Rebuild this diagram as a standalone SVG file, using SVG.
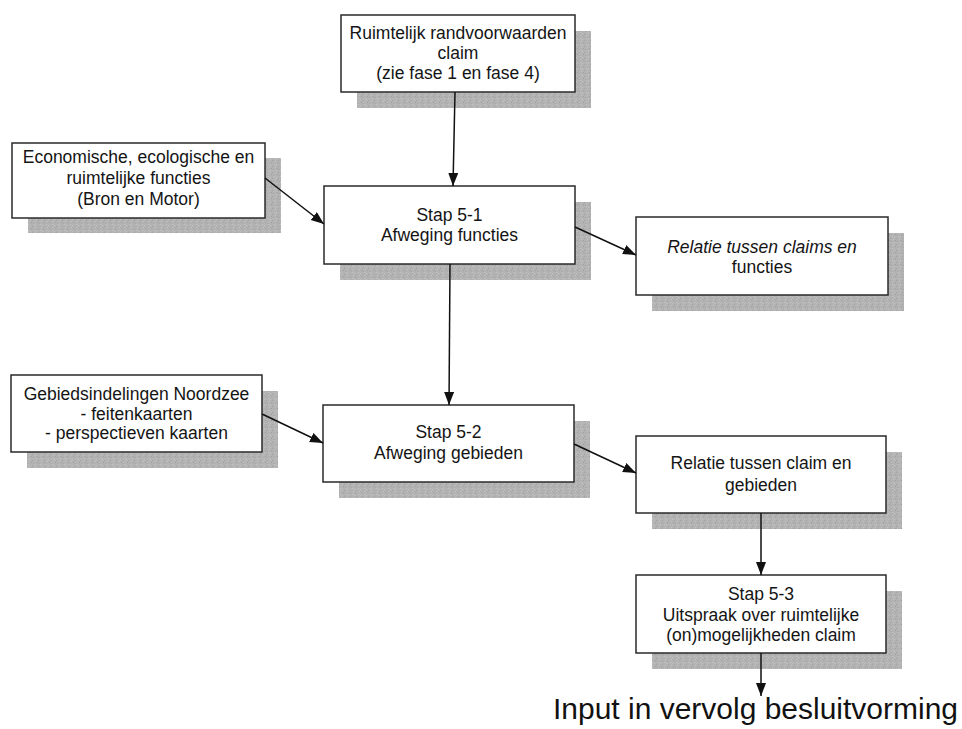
<svg xmlns="http://www.w3.org/2000/svg" width="962" height="729" viewBox="0 0 962 729">
<style>
.shadow{fill:url(#grain);stroke:none}
.box{fill:#ffffff;stroke:#2a2a2a;stroke-width:1.5}
.t{font-family:"Liberation Sans",Arial,sans-serif;font-size:17.5px;fill:#141414;text-anchor:middle}
.it{font-style:italic}
.conn{stroke:#111;stroke-width:1.5;fill:none;marker-end:url(#ah)}
.big{font-family:"Liberation Sans",Arial,sans-serif;font-size:30px;fill:#111}
</style>
<defs>
<marker id="ah" markerUnits="userSpaceOnUse" markerWidth="15" markerHeight="12" refX="13" refY="5" orient="auto">
<path d="M0,0 L13,5 L0,10 Z" fill="#111"/>
</marker>
<pattern id="grain" patternUnits="userSpaceOnUse" width="6" height="6">
<rect width="6" height="6" fill="#b3b3b3"/>
<rect x="1" y="0" width="1" height="1" fill="#9e9e9e"/>
<rect x="4" y="2" width="1" height="1" fill="#c6c6c6"/>
<rect x="2" y="4" width="1" height="1" fill="#a2a2a2"/>
<rect x="5" y="5" width="1" height="1" fill="#c2c2c2"/>
<rect x="0" y="3" width="1" height="1" fill="#c4c4c4"/>
<rect x="3" y="1" width="1" height="1" fill="#a6a6a6"/>
</pattern>
</defs>
<rect width="962" height="729" fill="#ffffff"/>

<g id="n-top">
<rect class="shadow" x="357" y="31" width="234" height="77"/>
<rect class="box" x="341" y="15" width="234" height="77"/>
<text class="t" x="458" y="39">Ruimtelijk randvoorwaarden</text>
<text class="t" x="458" y="59">claim</text>
<text class="t" x="458" y="79">(zie fase 1 en fase 4)</text>
</g>

<g id="n-econ">
<rect class="shadow" x="28" y="158" width="253" height="75"/>
<rect class="box" x="12" y="143" width="253" height="75"/>
<text class="t" x="138.5" y="163">Economische, ecologische en</text>
<text class="t" x="138.5" y="184">ruimtelijke functies</text>
<text class="t" x="138.5" y="205">(Bron en Motor)</text>
</g>

<g id="n-stap51">
<rect class="shadow" x="340" y="202" width="251" height="78"/>
<rect class="box" x="324" y="186" width="251" height="78"/>
<text class="t" x="449.5" y="221">Stap 5-1</text>
<text class="t" x="449.5" y="241">Afweging functies</text>
</g>

<g id="n-rel1">
<rect class="shadow" x="652" y="233" width="252" height="78"/>
<rect class="box" x="636" y="217" width="252" height="78"/>
<text class="t it" x="762" y="253">Relatie tussen claims en</text>
<text class="t" x="762" y="273">functies</text>
</g>

<g id="n-gebied">
<rect class="shadow" x="27" y="391" width="251" height="77"/>
<rect class="box" x="11" y="375" width="251" height="77"/>
<text class="t" x="136.5" y="400">Gebiedsindelingen Noordzee</text>
<text class="t" x="136.5" y="419.5">- feitenkaarten</text>
<text class="t" x="136.5" y="439">- perspectieven kaarten</text>
</g>

<g id="n-stap52">
<rect class="shadow" x="339" y="421" width="251" height="77"/>
<rect class="box" x="323" y="405" width="251" height="77"/>
<text class="t" x="448.5" y="438">Stap 5-2</text>
<text class="t" x="448.5" y="459">Afweging gebieden</text>
</g>

<g id="n-rel2">
<rect class="shadow" x="652" y="452" width="250" height="77"/>
<rect class="box" x="636" y="436" width="250" height="77"/>
<text class="t" x="761" y="469">Relatie tussen claim en</text>
<text class="t" x="761" y="491">gebieden</text>
</g>

<g id="n-stap53">
<rect class="shadow" x="652" y="591" width="250" height="78"/>
<rect class="box" x="636" y="575" width="250" height="78"/>
<text class="t" x="761" y="600">Stap 5-3</text>
<text class="t" x="761" y="621">Uitspraak over ruimtelijke</text>
<text class="t" x="761" y="641">(on)mogelijkheden claim</text>
</g>

<g id="connectors">
<line class="conn" x1="455" y1="92" x2="453" y2="186"/>
<line class="conn" x1="265" y1="178" x2="324" y2="224"/>
<line class="conn" x1="575" y1="227" x2="636" y2="255"/>
<line class="conn" x1="450" y1="264" x2="449" y2="405"/>
<line class="conn" x1="262" y1="414" x2="323" y2="443"/>
<line class="conn" x1="574" y1="444" x2="636" y2="473"/>
<line class="conn" x1="761" y1="513" x2="761" y2="575"/>
<line class="conn" x1="761" y1="653" x2="761" y2="696"/>
</g>

<g id="n-output">
<text class="big" x="553" y="719" textLength="405" lengthAdjust="spacingAndGlyphs">Input in vervolg besluitvorming</text>
</g>
</svg>
